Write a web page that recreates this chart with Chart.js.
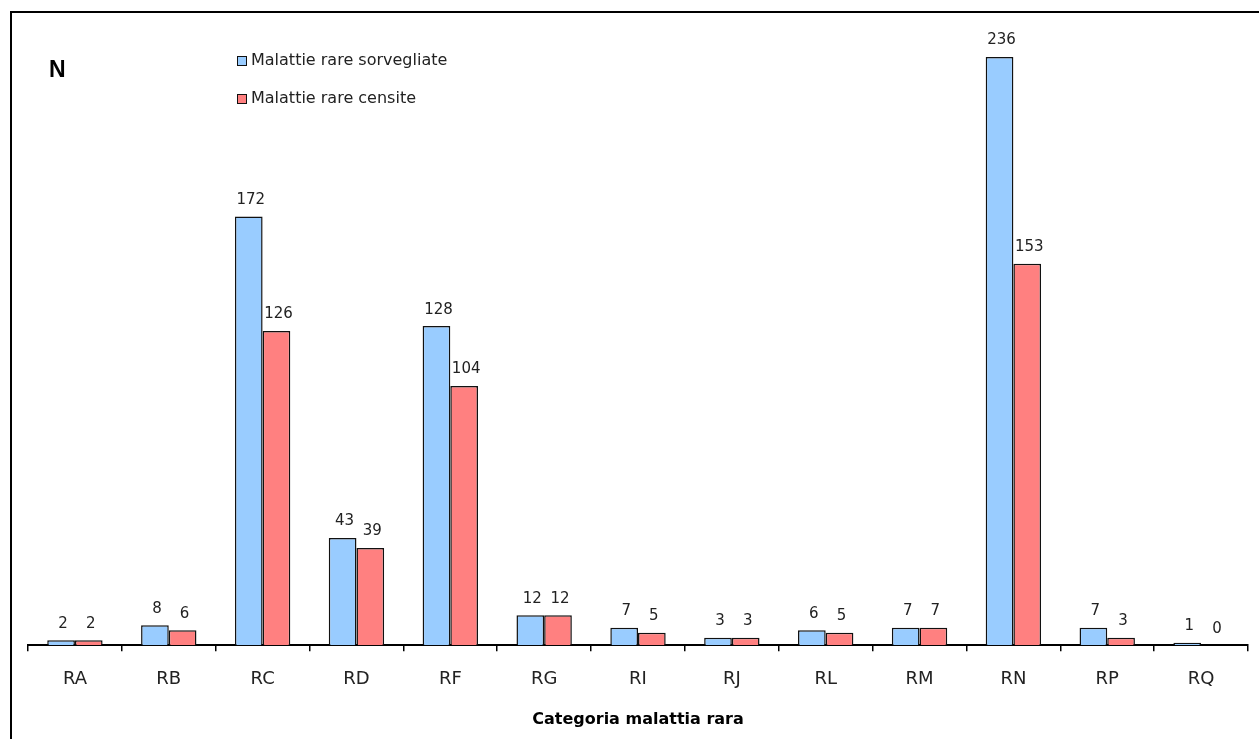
<!DOCTYPE html>
<html>
<head>
<meta charset="utf-8">
<script src="https://cdn.jsdelivr.net/npm/chart.js@4/dist/chart.umd.min.js"></script>
<style>
  body { margin: 0; background: #fff; }
  canvas { display: block; }
</style>
</head>
<body>
<canvas id="chart" width="1259" height="739"></canvas>
<script>
const categories = ['RA', 'RB', 'RC', 'RD', 'RF', 'RG', 'RI', 'RJ', 'RL', 'RM', 'RN', 'RP', 'RQ'];
const sorvegliate = [2, 8, 172, 43, 128, 12, 7, 3, 6, 7, 236, 7, 1];
const censite = [2, 6, 126, 39, 104, 12, 5, 3, 5, 7, 153, 3, 0];
const seriesNames = ['Malattie rare sorvegliate', 'Malattie rare censite'];

const FONT = '"DejaVu Sans", sans-serif';

// frame, "N" label and legend
const decorations = {
    id: 'decorations',
    beforeDraw(chart) {
        const ctx = chart.ctx;
        ctx.save();
        ctx.fillStyle = '#fff';
        ctx.fillRect(0, 0, chart.width, chart.height);
        ctx.strokeStyle = '#000';
        ctx.lineWidth = 2;
        ctx.strokeRect(11, 12, chart.width + 20, chart.height + 20);
        ctx.restore();
    },
    afterDraw(chart) {
        const ctx = chart.ctx;
        ctx.save();
        ctx.fillStyle = '#000';
        ctx.font = 'bold 23px Arial, "Liberation Sans", sans-serif';
        ctx.textBaseline = 'middle';
        ctx.fillText('N', 49, 71);

        ctx.font = '16px ' + FONT;
        chart.data.datasets.forEach((ds, i) => {
            const y = 61 + i * 38;
            ctx.fillStyle = ds.backgroundColor;
            ctx.fillRect(237, y - 5, 10, 10);
            ctx.strokeStyle = '#111';
            ctx.lineWidth = 1;
            ctx.strokeRect(237.5, y - 4.5, 9, 9);
            ctx.fillStyle = '#222';
            ctx.fillText(ds.label, 251, y);
        });

        // value labels above bars
        ctx.font = '15px ' + FONT;
        ctx.textAlign = 'center';
        ctx.textBaseline = 'bottom';
        chart.data.datasets.forEach((ds, i) => {
            chart.getDatasetMeta(i).data.forEach((bar, j) => {
                ctx.fillStyle = '#222';
                ctx.fillText(ds.data[j], bar.x + 2, bar.y - 9);
            });
        });
        ctx.restore();
    }
};

new Chart(document.getElementById('chart'), {
    type: 'bar',
    data: {
        labels: categories,
        datasets: [{
            label: seriesNames[0],
            data: sorvegliate,
            backgroundColor: '#99CCFF',
            borderColor: '#111',
            borderWidth: 1.5
        }, {
            label: seriesNames[1],
            data: censite,
            backgroundColor: '#FF8080',
            borderColor: '#111',
            borderWidth: 1.5
        }]
    },
    options: {
        responsive: false,
        animation: false,
        datasets: { bar: { categoryPercentage: 0.59, barPercentage: 1.0 } },
        layout: { padding: { left: 28, right: 11, top: 22, bottom: 10 } },
        plugins: { legend: { display: false }, tooltip: { enabled: false } },
        scales: {
            x: {
                grid: { drawOnChartArea: false, drawTicks: true, tickLength: 6, color: '#000', lineWidth: 1.5 },
                border: { display: true, color: '#000', width: 2 },
                ticks: { color: '#222', padding: 17, font: { family: FONT, size: 18 } },
                title: {
                    display: true,
                    text: 'Categoria malattia rara',
                    color: '#000',
                    font: { family: FONT, size: 16, weight: 'bold' },
                    padding: { top: 3, bottom: 0 }
                }
            },
            y: {
                display: false,
                min: 0,
                max: 250
            }
        }
    },
    plugins: [decorations]
});
</script>
</body>
</html>
